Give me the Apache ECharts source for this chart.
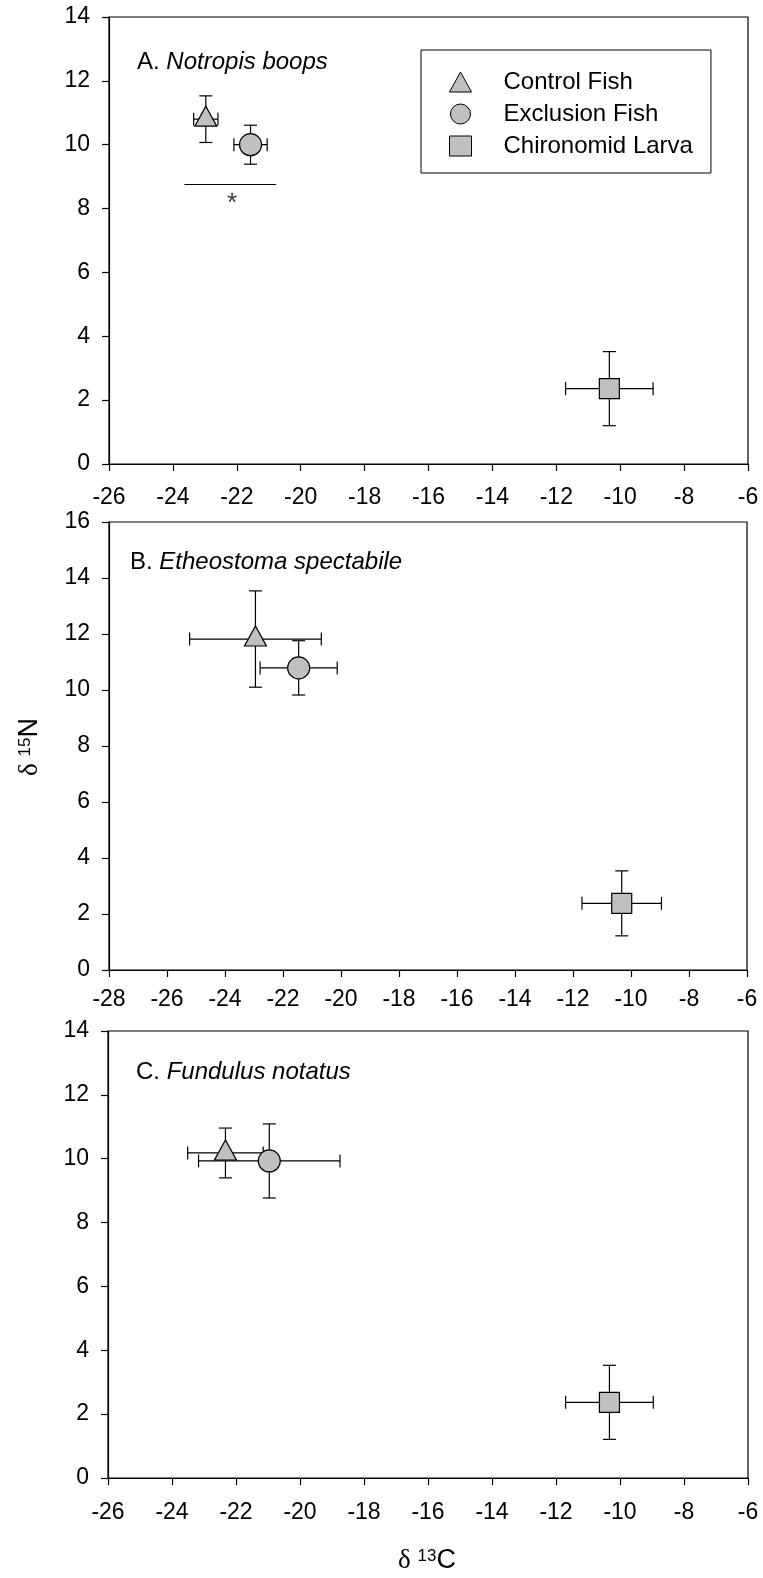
<!DOCTYPE html>
<html>
<head>
<meta charset="utf-8">
<script src="https://cdn.jsdelivr.net/npm/echarts@6/dist/echarts.min.js"></script>
<style>
html,body{margin:0;padding:0;background:#fff}
#chart{width:763px;height:1578px}
</style>
</head>
<body>
<div id="chart"></div>
<script>
// groups and panel names
const groups = ['Control Fish', 'Exclusion Fish', 'Chironomid Larva']
const groupSymbols = ['triangle', 'circle', 'rect']
const panelLetters = ['A. ', 'B. ', 'C. ']
const panelSpecies = ['Notropis boops', 'Etheostoma spectabile', 'Fundulus notatus']

// axis ranges / ticks (delta 13C on x, delta 15N on y)
const xMins = [-26, -28, -26]
const xMaxs = [-6, -6, -6]
const yMaxs = [14, 16, 14]
const tickStep = 2

// panel A - Notropis boops
const carbonA = [-22.97, -21.57, -10.34]
const carbonErrA = [0.38, 0.52, 1.37]
const nitrogenA = [10.8, 10.0, 2.36]
const nitrogenErrA = [0.73, 0.61, 1.16]
// panel B - Etheostoma spectabile
const carbonB = [-22.95, -21.46, -10.32]
const carbonErrB = [2.27, 1.33, 1.37]
const nitrogenB = [11.82, 10.79, 2.38]
const nitrogenErrB = [1.72, 0.97, 1.16]
// panel C - Fundulus notatus
const carbonC = [-22.33, -20.96, -10.33]
const carbonErrC = [1.18, 2.21, 1.37]
const nitrogenC = [10.18, 9.93, 2.37]
const nitrogenErrC = [0.78, 1.16, 1.16]

// significance mark in panel A
const sigLineX = [-23.64, -20.77]
const sigLineY = 8.77
const sigStar = [-22.15, 8.15]

const panels = [
	{c: carbonA, ce: carbonErrA, n: nitrogenA, ne: nitrogenErrA},
	{c: carbonB, ce: carbonErrB, n: nitrogenB, ne: nitrogenErrB},
	{c: carbonC, ce: carbonErrC, n: nitrogenC, ne: nitrogenErrC}
]

const FONT = '"Liberation Sans", Arial, sans-serif'
const grids = [
	{left: 109, top: 17, width: 639, height: 447},
	{left: 109, top: 522, width: 638, height: 448},
	{left: 108, top: 1031, width: 640, height: 447}
]
const xLabelMargins = [22, 18, 23]
const titleOffsets = [[28, 45], [21, 40], [28, 41]]

function errorBars(params, api){
	var x = api.value(0), y = api.value(1), xe = api.value(2), ye = api.value(3)
	var l = api.coord([x - xe, y]), r = api.coord([x + xe, y])
	var t = api.coord([x, y + ye]), b = api.coord([x, y - ye])
	var cap = 6.5
	var st = {stroke: '#000', lineWidth: 1.2}
	function ln(x1, y1, x2, y2){
		return {type: 'line', shape: {x1: x1, y1: y1, x2: x2, y2: y2}, style: st}
	}
	return {type: 'group', children: [
		ln(l[0], l[1], r[0], r[1]),
		ln(l[0], l[1] - cap, l[0], l[1] + cap),
		ln(r[0], r[1] - cap, r[0], r[1] + cap),
		ln(t[0], t[1], b[0], b[1]),
		ln(t[0] - cap, t[1], t[0] + cap, t[1]),
		ln(b[0] - cap, b[1], b[0] + cap, b[1])
	]}
}

var xAxes = [], yAxes = [], series = [], graphics = []
panels.forEach(function(p, k){
	xAxes.push({
		type: 'value', gridIndex: k, min: xMins[k], max: xMaxs[k], interval: tickStep,
		axisLine: {onZero: false, lineStyle: {color: '#000', width: 1.2}},
		axisTick: {length: 7, lineStyle: {color: '#000', width: 1.2}},
		axisLabel: {color: '#000', fontSize: 23, fontFamily: FONT, margin: xLabelMargins[k]},
		splitLine: {show: false}
	})
	yAxes.push({
		type: 'value', gridIndex: k, min: 0, max: yMaxs[k], interval: tickStep,
		axisLine: {onZero: false, lineStyle: {color: '#000', width: 1.2}},
		axisTick: {length: 7, lineStyle: {color: '#000', width: 1.2}},
		axisLabel: {color: '#000', fontSize: 23, fontFamily: FONT, margin: 19},
		splitLine: {show: false}
	})
	series.push({
		type: 'custom', xAxisIndex: k, yAxisIndex: k, renderItem: errorBars, z: 1,
		encode: {x: 0, y: 1}, silent: true,
		data: p.c.map(function(v, i){ return [v, p.n[i], p.ce[i], p.ne[i]] })
	})
	groups.forEach(function(g, i){
		series.push({
			type: 'scatter', name: g, xAxisIndex: k, yAxisIndex: k, z: 3,
			symbol: groupSymbols[i],
			symbolSize: i === 0 ? [22, 20] : (i === 1 ? 22 : 20),
			symbolOffset: i === 0 ? [0, -3] : [0, 0],
			itemStyle: {color: '#c0c0c0', borderColor: '#000', borderWidth: 1.2, opacity: 1},
			data: [[p.c[i], p.n[i]]]
		})
	})
	graphics.push({
		type: 'text', x: grids[k].left + titleOffsets[k][0], y: grids[k].top + titleOffsets[k][1],
		style: {
			text: '{n|' + panelLetters[k] + '}{i|' + panelSpecies[k] + '}',
			verticalAlign: 'middle',
			rich: {
				n: {fontSize: 24, fontFamily: FONT, fill: '#000'},
				i: {fontSize: 24, fontFamily: FONT, fontStyle: 'italic', fill: '#000'}
			}
		}
	})
})

// significance bar and star in panel A
series.push({
	type: 'scatter', xAxisIndex: 0, yAxisIndex: 0, symbolSize: 0, silent: true,
	data: [sigStar],
	label: {show: true, position: 'inside', formatter: '*', fontSize: 26, fontFamily: FONT, color: '#000'},
	markLine: {
		silent: true, symbol: 'none', label: {show: false},
		lineStyle: {color: '#000', width: 1.2, type: 'solid'},
		data: [[{coord: [sigLineX[0], sigLineY]}, {coord: [sigLineX[1], sigLineY]}]]
	}
})

// axis titles
var nameRich = {
	d: {fontSize: 27, fontFamily: '"Liberation Serif", serif', fill: '#000'},
	s: {fontSize: 17, fontFamily: FONT, fill: '#000', verticalAlign: 'top'},
	c: {fontSize: 27, fontFamily: FONT, fill: '#000'}
}
graphics.push({
	type: 'text', x: 427, y: 1561,
	style: {text: '{d|δ }{s|13}{c|C}', align: 'center', verticalAlign: 'middle', rich: nameRich}
})
graphics.push({
	type: 'text', x: 30, y: 747, rotation: Math.PI / 2,
	style: {text: '{d|δ }{s|15}{c|N}', align: 'center', verticalAlign: 'middle', rich: nameRich}
})

var myChart = echarts.init(document.getElementById('chart'), null, {renderer: 'canvas'})
var option = {
	animation: false,
	backgroundColor: '#fff',
	grid: grids.map(function(g){
		return Object.assign({show: true, borderColor: '#000', borderWidth: 1.2, backgroundColor: 'transparent'}, g)
	}),
	xAxis: xAxes,
	yAxis: yAxes,
	legend: {
		left: 421, top: 50, orient: 'vertical',
		padding: [20, 18, 15, 28], itemGap: 8, itemWidth: 22, itemHeight: 20,
		borderColor: '#000', borderWidth: 1, backgroundColor: '#fff',
		selectedMode: false,
		data: groups.map(function(g, i){ return {name: g, icon: groupSymbols[i]} }),
		itemStyle: {color: '#c0c0c0', borderColor: '#000', borderWidth: 1},
		textStyle: {fontSize: 24, fontFamily: FONT, color: '#000', padding: [0, 0, 0, 27]}
	},
	graphic: graphics,
	series: series
}
myChart.setOption(option)
window.addEventListener('resize', function(){ myChart.resize() })
</script>
</body>
</html>
